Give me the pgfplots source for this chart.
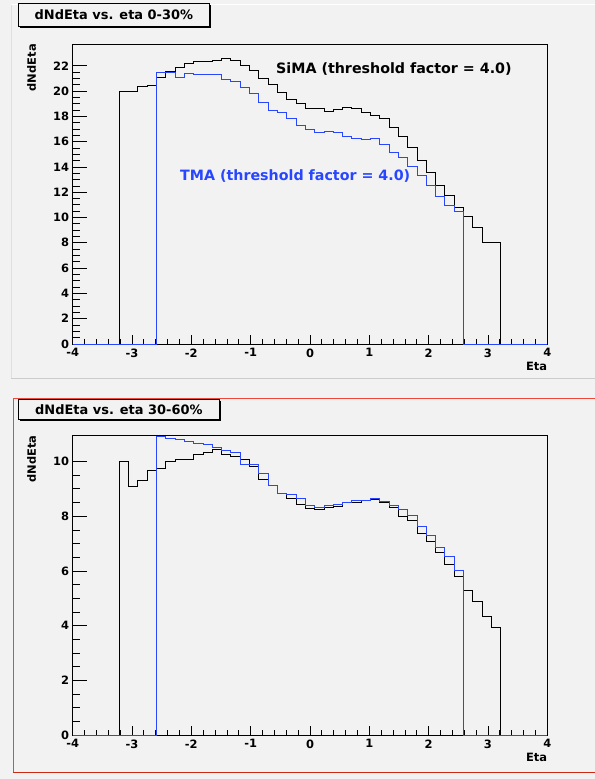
\documentclass[border=0pt]{standalone}
\usepackage{pgfplots}
\pgfplotsset{compat=1.18}
\usepackage{pgfplotstable}
\usepackage{fontspec}
\setmainfont{DejaVu Sans}

\definecolor{canvas}{RGB}{242,242,242}
\definecolor{tmablue}{RGB}{40,70,255}
\definecolor{padred}{RGB}{238,72,58}
\definecolor{padredd}{RGB}{205,40,20}

% 51 bins from -4 to 4, x = low edge of the bin
\pgfplotstableread{
x y
-4.0000 0
-3.2157 19.95
-3.0588 19.95
-2.9020 20.34
-2.7451 20.45
-2.5882 21.10
-2.4314 21.55
-2.2745 21.90
-2.1176 22.20
-1.9608 22.35
-1.8039 22.35
-1.6471 22.45
-1.4902 22.60
-1.3333 22.45
-1.1765 22.00
-1.0196 21.60
-0.8627 21.00
-0.7059 20.55
-0.5490 19.85
-0.3922 19.35
-0.2353 19.05
-0.0784 18.63
0.0784 18.63
0.2353 18.42
0.3922 18.52
0.5490 18.68
0.7059 18.60
0.8627 18.33
1.0196 18.07
1.1765 17.85
1.3333 17.12
1.4902 16.40
1.6471 15.55
1.8039 14.50
1.9608 13.54
2.1176 12.55
2.2745 11.78
2.4314 10.80
2.5882 10.07
2.7451 9.20
2.9020 8.06
3.0588 8.06
3.2157 0
4.0000 0
}\topsima

\pgfplotstableread{
x y
-4.0000 0
-2.5882 21.47
-2.4314 21.47
-2.2745 21.10
-2.1176 21.37
-1.9608 21.30
-1.8039 21.30
-1.6471 21.34
-1.4902 20.90
-1.3333 20.75
-1.1765 20.32
-1.0196 19.80
-0.8627 19.12
-0.7059 18.44
-0.5490 18.27
-0.3922 17.84
-0.2353 17.25
-0.0784 16.95
0.0784 16.73
0.2353 16.80
0.3922 16.73
0.5490 16.44
0.7059 16.26
0.8627 16.18
1.0196 16.22
1.1765 15.81
1.3333 15.15
1.4902 14.76
1.6471 14.02
1.8039 13.36
1.9608 12.55
2.1176 11.65
2.2745 10.95
2.4314 10.48
2.5882 0
4.0000 0
}\toptma

\pgfplotstableread{
x y
-4.0000 0
-3.2157 9.99
-3.0588 9.10
-2.9020 9.32
-2.7451 9.69
-2.5882 9.73
-2.4314 10.00
-2.2745 10.06
-2.1176 10.06
-1.9608 10.27
-1.8039 10.34
-1.6471 10.45
-1.4902 10.25
-1.3333 10.19
-1.1765 10.07
-1.0196 9.81
-0.8627 9.36
-0.7059 9.14
-0.5490 8.84
-0.3922 8.65
-0.2353 8.43
-0.0784 8.29
0.0784 8.25
0.2353 8.31
0.3922 8.37
0.5490 8.52
0.7059 8.52
0.8627 8.57
1.0196 8.62
1.1765 8.51
1.3333 8.32
1.4902 8.01
1.6471 7.84
1.8039 7.37
1.9608 7.07
2.1176 6.67
2.2745 6.24
2.4314 5.79
2.5882 5.28
2.7451 4.90
2.9020 4.35
3.0588 3.94
3.2157 0
4.0000 0
}\botsima

\pgfplotstableread{
x y
-4.0000 0
-2.5882 10.91
-2.4314 10.85
-2.2745 10.79
-2.1176 10.73
-1.9608 10.66
-1.8039 10.62
-1.6471 10.51
-1.4902 10.42
-1.3333 10.32
-1.1765 9.90
-1.0196 9.90
-0.8627 9.57
-0.7059 9.14
-0.5490 8.84
-0.3922 8.78
-0.2353 8.64
-0.0784 8.39
0.0784 8.32
0.2353 8.40
0.3922 8.43
0.5490 8.51
0.7059 8.57
0.8627 8.56
1.0196 8.64
1.1765 8.53
1.3333 8.39
1.4902 8.23
1.6471 8.02
1.8039 7.62
1.9608 7.31
2.1176 6.86
2.2745 6.52
2.4314 6.01
2.5882 0
4.0000 0
}\bottma

\pgfplotsset{
  rootframe/.style={
    scale only axis, width=474.6bp,
    xmin=-4, xmax=4, ymin=0,
    axis line style={black, line width=0.9bp},
    tick align=inside, tick pos=left,
    tick style={black, line width=0.8bp},
    tick label style={font=\bfseries\fontsize{11.5}{13}\selectfont},
    /pgf/number format/assume math mode=true,
  },
  % y ticks, labels and the histograms
  yframe/.style={rootframe, xtick=\empty, clip=false,
    major tick length=14.7bp, minor tick length=7.3bp, minor y tick num=3,
    ylabel={dNdEta}, xlabel={Eta},
    every axis y label/.style={at={(rel axis cs:-0.0864,1)}, rotate=90,
      anchor=east, inner sep=0pt, font=\bfseries\fontsize{11.5}{13}\selectfont},
    every axis x label/.style={at={(rel axis cs:1,0)}, anchor=east,
      yshift=-22.7bp, inner sep=0pt, font=\bfseries\fontsize{11.5}{13}\selectfont},
  },
  % x ticks only
  xframe/.style={rootframe, ytick=\empty, xtick={-4,...,4},
    major tick length=9bp, minor tick length=4.5bp, minor x tick num=4,
    xticklabel style={yshift=-1bp},
  },
  sima/.style={const plot mark left, black, line width=0.9bp, no marks},
  tma/.style={const plot mark left, tmablue, line width=0.9bp, no marks},
}

\begin{document}
\begin{tikzpicture}
\useasboundingbox (0bp,0bp) rectangle (595bp,779bp);
\fill[canvas] (0bp,0bp) rectangle (595bp,779bp);
\draw[white, line width=1bp] (11bp,774bp) -- (595bp,774bp);
\draw[gray!25, line width=0.8bp] (11bp,400bp) -- (11bp,774bp);
\draw[gray!40, line width=1bp] (11bp,400bp) -- (595bp,400bp);
\draw[padred, line width=1.4bp] (13.3bp,6.7bp) -- (13.3bp,380.7bp) -- (600bp,380.7bp);
\draw[padredd, line width=1.4bp] (13.3bp,6.7bp) -- (600bp,6.7bp);

% top pad: 0-30%
\begin{axis}[xframe, at={(72.7bp,435bp)}, anchor=south west, height=300bp, ymax=23.72]
\end{axis}
\begin{axis}[yframe, at={(72.7bp,435bp)}, anchor=south west, height=300bp, ymax=23.72,
  ytick={0,2,...,22}]
\addplot[sima] table {\topsima};
\addplot[tma] table {\toptma};
\node[anchor=west, inner sep=0pt, font=\bfseries\fontsize{14.3}{16}\selectfont]
  at (axis cs:-0.573,21.72) {SiMA (threshold factor = 4.0)};
\node[anchor=west, inner sep=0pt, text=tmablue, font=\bfseries\fontsize{14.3}{16}\selectfont]
  at (axis cs:-2.191,13.30) {TMA (threshold factor = 4.0)};
\end{axis}

% bottom pad: 30-60%
\begin{axis}[xframe, at={(72.7bp,44bp)}, anchor=south west, height=299.7bp, ymax=10.96]
\end{axis}
\begin{axis}[yframe, at={(72.7bp,44bp)}, anchor=south west, height=299.7bp, ymax=10.96,
  ytick={0,2,...,10}]
\addplot[sima] table {\botsima};
\addplot[tma] table {\bottma};
\end{axis}

% title boxes
\fill[black] (19.8bp,750.8bp) rectangle (211.2bp,774.3bp);
\draw[black, fill=canvas, line width=0.8bp] (18.3bp,752.5bp) rectangle (209.5bp,776bp);
\node[font=\bfseries\fontsize{13}{15}\selectfont] at (113.9bp,764.2bp) {dNdEta vs. eta 0-30\%};
\fill[black] (19.8bp,358.3bp) rectangle (221.2bp,377.5bp);
\draw[black, fill=canvas, line width=0.8bp] (18.3bp,360bp) rectangle (219.5bp,379.2bp);
\node[font=\bfseries\fontsize{13}{15}\selectfont] at (118.9bp,369.6bp) {dNdEta vs. eta 30-60\%};
\end{tikzpicture}
\end{document}
